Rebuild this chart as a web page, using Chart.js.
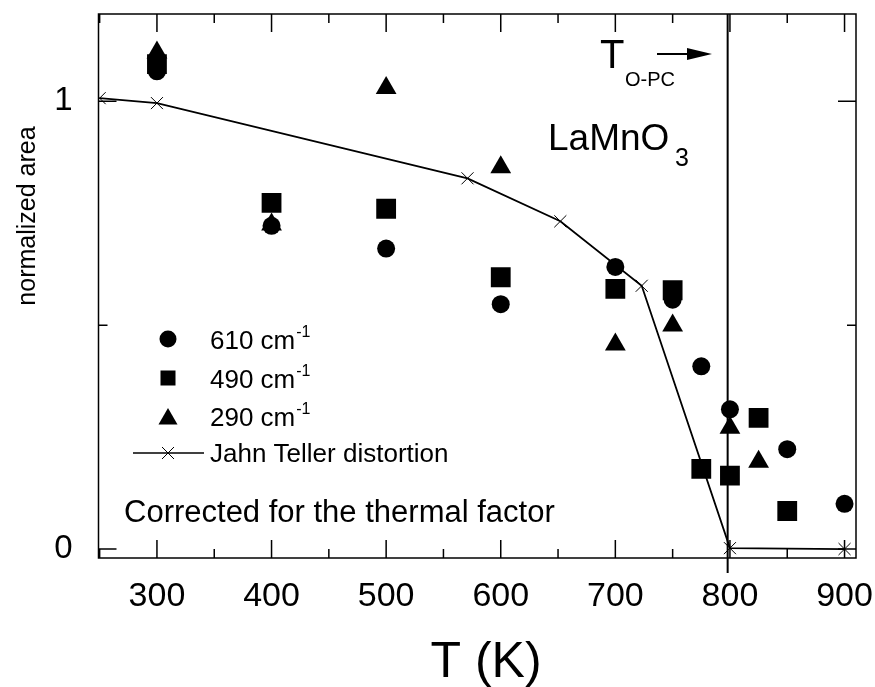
<!DOCTYPE html>
<html>
<head>
<meta charset="utf-8">
<script src="https://cdn.jsdelivr.net/npm/chart.js@4/dist/chart.umd.min.js"></script>
<style>
  body { margin: 0; background: #fff; }
  #wrap { width: 875px; height: 687px; position: relative; }
</style>
</head>
<body>
<div id="wrap"><canvas id="chart"></canvas></div>
<script>
// normalized areas, per mode
const temps610 = [300, 400, 500, 600, 700, 750, 775, 800, 850, 900];
const area610 = [1.067, 0.722, 0.671, 0.547, 0.630, 0.557, 0.408, 0.312, 0.223, 0.101];

const temps490 = [300, 400, 500, 600, 700, 750, 775, 800, 825, 850];
const area490 = [1.083, 0.773, 0.760, 0.607, 0.581, 0.578, 0.179, 0.164, 0.293, 0.085];

const temps290 = [300, 400, 500, 600, 700, 750, 800, 825];
const area290 = [1.109, 0.725, 1.030, 0.853, 0.457, 0.499, 0.271, 0.195];

// Jahn Teller distortion curve
const tempsJT = [250, 300, 571, 652, 723, 800, 900];
const distortionJT = [1.007, 0.996, 0.828, 0.732, 0.588, 0.002, 0.0];

const seriesNames = ["610 cm", "490 cm", "290 cm", "Jahn Teller distortion"];
const xTickLabels = [300, 400, 500, 600, 700, 800, 900];
const xMinorTicks = [250, 350, 450, 550, 650, 750, 850];
const yTickLabels = [0, 1];
const yMinorTicks = [0.5];
const transitionT = 798;

const FONT = "'Liberation Sans', Arial, Helvetica, sans-serif";
Chart.defaults.font.family = FONT;
Chart.defaults.color = "#000";

function toPoints(xs, ys) {
    return xs.map((x, i) => ({ x: x, y: ys[i] }));
}

// no extra room for half labels at the ends of the axes
function noPadding(scale) {
    scale.paddingLeft = 0;
    scale.paddingRight = 0;
    scale.paddingTop = 0;
    scale.paddingBottom = 0;
}

// legend symbols
function drawSymbol(ctx, type, x, y) {
    ctx.save();
    ctx.fillStyle = "#000";
    ctx.strokeStyle = "#000";
    ctx.beginPath();
    if (type === "circle") {
        ctx.arc(x, y, 8.5, 0, Math.PI * 2);
        ctx.fill();
    } else if (type === "rect") {
        ctx.fillRect(x - 7.5, y - 7.5, 15, 15);
    } else if (type === "triangle") {
        const r = 11;
        ctx.moveTo(x, y - r);
        ctx.lineTo(x + r * 0.866, y + r / 2);
        ctx.lineTo(x - r * 0.866, y + r / 2);
        ctx.closePath();
        ctx.fill();
    } else {
        ctx.lineWidth = 1.5;
        ctx.moveTo(x - 35, y);
        ctx.lineTo(x + 36, y);
        ctx.stroke();
        ctx.lineWidth = 1;
        ctx.beginPath();
        ctx.moveTo(x - 6, y - 6); ctx.lineTo(x + 6, y + 6);
        ctx.moveTo(x + 6, y - 6); ctx.lineTo(x - 6, y + 6);
        ctx.stroke();
    }
    ctx.restore();
}

const decorations = {
    id: "decorations",
    beforeDatasetsDraw(chart) {
        const ctx = chart.ctx;
        const area = chart.chartArea;
        const px = chart.scales.x.getPixelForValue(transitionT);
        ctx.save();
        ctx.strokeStyle = "#000";
        ctx.lineWidth = 2;
        ctx.beginPath();
        ctx.moveTo(px, area.top);
        ctx.lineTo(px, area.bottom + 15);
        ctx.stroke();
        ctx.restore();
    },
    afterDraw(chart) {
        const ctx = chart.ctx;
        const a = chart.chartArea;
        const xs = chart.scales.x;
        const ys = chart.scales.y;
        ctx.save();
        ctx.strokeStyle = "#000";
        ctx.fillStyle = "#000";

        // frame
        ctx.lineWidth = 1.5;
        ctx.strokeRect(a.left, a.top, a.right - a.left, a.bottom - a.top);

        // inward ticks
        ctx.lineWidth = 1.5;
        ctx.beginPath();
        const xTick = (v, len) => {
            const p = xs.getPixelForValue(v);
            ctx.moveTo(p, a.bottom); ctx.lineTo(p, a.bottom - len);
            ctx.moveTo(p, a.top); ctx.lineTo(p, a.top + len);
        };
        const yTick = (v, len) => {
            const p = ys.getPixelForValue(v);
            ctx.moveTo(a.left, p); ctx.lineTo(a.left + len, p);
            ctx.moveTo(a.right, p); ctx.lineTo(a.right - len, p);
        };
        xTickLabels.forEach(v => xTick(v, 18));
        xMinorTicks.forEach(v => xTick(v, 9));
        yTickLabels.forEach(v => yTick(v, 18));
        yMinorTicks.forEach(v => yTick(v, 9));
        ctx.stroke();

        // axis titles
        ctx.textAlign = "center";
        ctx.textBaseline = "alphabetic";
        ctx.font = "50px " + FONT;
        ctx.fillText("T (K)", 486, 677);

        ctx.save();
        ctx.translate(35, 216);
        ctx.rotate(-Math.PI / 2);
        ctx.font = "25px " + FONT;
        ctx.fillText("normalized area", 0, 0);
        ctx.restore();

        // transition label and arrow
        ctx.textAlign = "left";
        ctx.font = "40px " + FONT;
        ctx.fillText("T", 600, 68);
        ctx.font = "20px " + FONT;
        ctx.fillText("O-PC", 625, 86);
        ctx.lineWidth = 2;
        ctx.beginPath();
        ctx.moveTo(657, 54); ctx.lineTo(690, 54);
        ctx.stroke();
        ctx.beginPath();
        ctx.moveTo(712, 54); ctx.lineTo(687, 48); ctx.lineTo(687, 60);
        ctx.closePath();
        ctx.fill();

        // compound name
        ctx.font = "37px " + FONT;
        ctx.fillText("LaMnO", 548, 150);
        ctx.font = "25px " + FONT;
        ctx.fillText("3", 675, 166);

        // legend
        const symbols = ["circle", "rect", "triangle", "cross"];
        const symbolY = [339, 378, 419, 453];
        const textY = [349, 388, 426, 462];
        seriesNames.forEach((name, i) => {
            drawSymbol(ctx, symbols[i], 168, symbolY[i]);
            ctx.font = "26px " + FONT;
            ctx.fillText(name, 210, textY[i]);
            if (i < 3) {
                const w = ctx.measureText(name).width;
                ctx.font = "16px " + FONT;
                ctx.fillText("-1", 210 + w + 1, textY[i] - 12);
            }
        });

        ctx.font = "31px " + FONT;
        ctx.fillText("Corrected for the thermal factor", 124, 522);
        ctx.restore();
    }
};

const ctx = document.getElementById("chart").getContext("2d");
new Chart(ctx, {
    type: "scatter",
    data: {
        datasets: [
            {
                label: seriesNames[0],
                data: toPoints(temps610, area610),
                pointStyle: "circle",
                pointRadius: 9,
                backgroundColor: "#000",
                borderWidth: 0,
            },
            {
                label: seriesNames[1],
                data: toPoints(temps490, area490),
                pointStyle: "rect",
                pointRadius: 14,
                backgroundColor: "#000",
                borderWidth: 0,
            },
            {
                label: seriesNames[2],
                data: toPoints(temps290, area290),
                pointStyle: "triangle",
                pointRadius: 12,
                backgroundColor: "#000",
                borderWidth: 0,
            },
            {
                label: seriesNames[3],
                data: toPoints(tempsJT, distortionJT),
                showLine: true,
                borderColor: "#000",
                borderWidth: 1.8,
                pointStyle: "crossRot",
                pointRadius: 8.5,
                pointBorderWidth: 1,
                pointBorderColor: "#000",
                pointBackgroundColor: "#000",
            },
        ],
    },
    options: {
        responsive: true,
        maintainAspectRatio: false,
        animation: false,
        layout: { padding: { top: 9, right: 19, left: 0, bottom: 0 } },
        plugins: {
            legend: { display: false },
            tooltip: { enabled: false },
        },
        scales: {
            x: {
                type: "linear",
                min: 249,
                max: 910,
                afterBuildTicks: (scale) => {
                    scale.ticks = xTickLabels.map(v => ({ value: v }));
                },
                afterFit: (scale) => { scale.height = 129; noPadding(scale); },
                grid: { display: false },
                border: { display: false },
                ticks: {
                    autoSkip: false,
                    maxRotation: 0,
                    padding: 10,
                    font: { size: 34 },
                    color: "#000",
                },
            },
            y: {
                type: "linear",
                min: -0.02,
                max: 1.195,
                afterBuildTicks: (scale) => {
                    scale.ticks = yTickLabels.map(v => ({ value: v }));
                },
                afterFit: (scale) => { scale.width = 98.5; noPadding(scale); },
                grid: { display: false },
                border: { display: false },
                ticks: {
                    padding: 18,
                    font: { size: 33 },
                    color: "#000",
                },
            },
        },
    },
    plugins: [decorations],
});
</script>
</body>
</html>
